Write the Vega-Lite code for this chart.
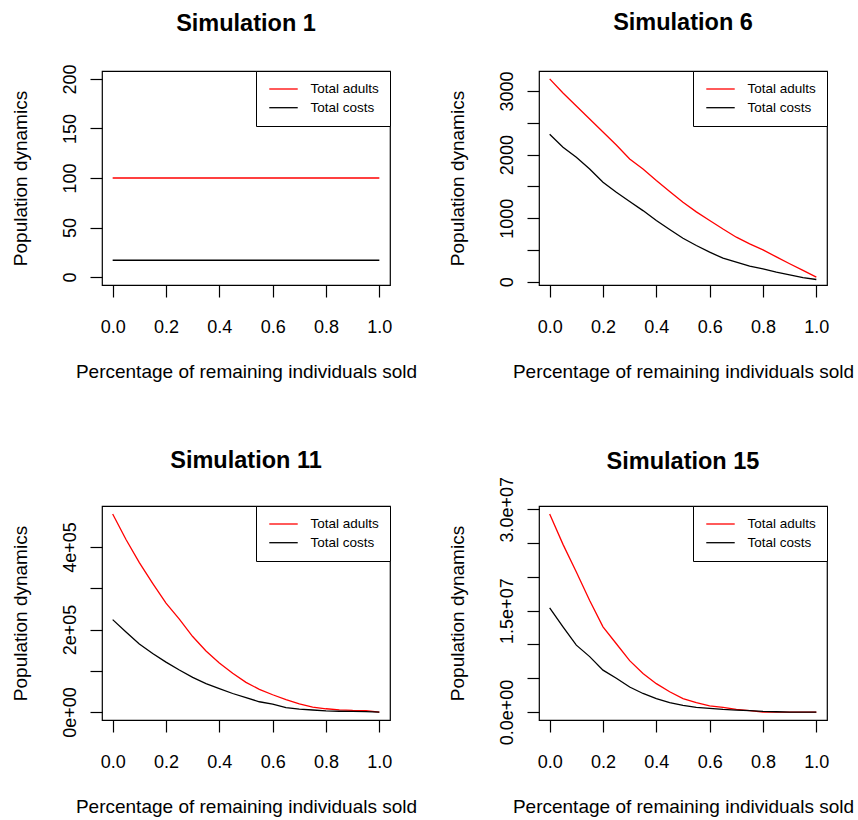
{
  "$schema": "https://vega.github.io/schema/vega-lite/v6.json",
  "background": "white",
  "padding": {"left": 10, "top": 10, "right": 0, "bottom": 0},
  "data": {"values": [
    {"s":1,"x":0.0,"Total adults":100,"Total costs":17},
    {"s":1,"x":0.1,"Total adults":100,"Total costs":17},
    {"s":1,"x":0.2,"Total adults":100,"Total costs":17},
    {"s":1,"x":0.3,"Total adults":100,"Total costs":17},
    {"s":1,"x":0.4,"Total adults":100,"Total costs":17},
    {"s":1,"x":0.5,"Total adults":100,"Total costs":17},
    {"s":1,"x":0.6,"Total adults":100,"Total costs":17},
    {"s":1,"x":0.7,"Total adults":100,"Total costs":17},
    {"s":1,"x":0.8,"Total adults":100,"Total costs":17},
    {"s":1,"x":0.9,"Total adults":100,"Total costs":17},
    {"s":1,"x":1.0,"Total adults":100,"Total costs":17},

    {"s":6,"x":0.00,"Total adults":3190,"Total costs":2319},
    {"s":6,"x":0.05,"Total adults":2969,"Total costs":2115},
    {"s":6,"x":0.10,"Total adults":2765,"Total costs":1958},
    {"s":6,"x":0.15,"Total adults":2560,"Total costs":1775},
    {"s":6,"x":0.20,"Total adults":2355,"Total costs":1565},
    {"s":6,"x":0.25,"Total adults":2152,"Total costs":1408},
    {"s":6,"x":0.30,"Total adults":1932,"Total costs":1262},
    {"s":6,"x":0.35,"Total adults":1775,"Total costs":1120},
    {"s":6,"x":0.40,"Total adults":1592,"Total costs":963},
    {"s":6,"x":0.45,"Total adults":1419,"Total costs":822},
    {"s":6,"x":0.50,"Total adults":1250,"Total costs":686},
    {"s":6,"x":0.55,"Total adults":1100,"Total costs":571},
    {"s":6,"x":0.60,"Total adults":965,"Total costs":466},
    {"s":6,"x":0.65,"Total adults":830,"Total costs":372},
    {"s":6,"x":0.70,"Total adults":702,"Total costs":309},
    {"s":6,"x":0.75,"Total adults":597,"Total costs":246},
    {"s":6,"x":0.80,"Total adults":503,"Total costs":204},
    {"s":6,"x":0.85,"Total adults":392,"Total costs":152},
    {"s":6,"x":0.90,"Total adults":285,"Total costs":110},
    {"s":6,"x":0.95,"Total adults":180,"Total costs":68},
    {"s":6,"x":1.00,"Total adults":75,"Total costs":37},

    {"s":11,"x":0.00,"Total adults":480000,"Total costs":224000},
    {"s":11,"x":0.05,"Total adults":418000,"Total costs":194000},
    {"s":11,"x":0.10,"Total adults":362000,"Total costs":165000},
    {"s":11,"x":0.15,"Total adults":312000,"Total costs":142000},
    {"s":11,"x":0.20,"Total adults":264000,"Total costs":121000},
    {"s":11,"x":0.25,"Total adults":225000,"Total costs":102000},
    {"s":11,"x":0.30,"Total adults":183000,"Total costs":84000},
    {"s":11,"x":0.35,"Total adults":148000,"Total costs":69000},
    {"s":11,"x":0.40,"Total adults":119000,"Total costs":57000},
    {"s":11,"x":0.45,"Total adults":94000,"Total costs":45000},
    {"s":11,"x":0.50,"Total adults":72000,"Total costs":35000},
    {"s":11,"x":0.55,"Total adults":55000,"Total costs":25000},
    {"s":11,"x":0.60,"Total adults":42000,"Total costs":19000},
    {"s":11,"x":0.65,"Total adults":30000,"Total costs":11000},
    {"s":11,"x":0.70,"Total adults":20000,"Total costs":7000},
    {"s":11,"x":0.75,"Total adults":12000,"Total costs":5000},
    {"s":11,"x":0.80,"Total adults":8000,"Total costs":3000},
    {"s":11,"x":0.85,"Total adults":5500,"Total costs":2000},
    {"s":11,"x":0.90,"Total adults":4000,"Total costs":1600},
    {"s":11,"x":0.95,"Total adults":3500,"Total costs":1000},
    {"s":11,"x":1.00,"Total adults":0,"Total costs":0},

    {"s":15,"x":0.00,"Total adults":29300000,"Total costs":15400000},
    {"s":15,"x":0.05,"Total adults":24800000,"Total costs":12600000},
    {"s":15,"x":0.10,"Total adults":20700000,"Total costs":9900000},
    {"s":15,"x":0.15,"Total adults":16500000,"Total costs":8200000},
    {"s":15,"x":0.20,"Total adults":12600000,"Total costs":6200000},
    {"s":15,"x":0.25,"Total adults":10100000,"Total costs":5000000},
    {"s":15,"x":0.30,"Total adults":7600000,"Total costs":3700000},
    {"s":15,"x":0.35,"Total adults":5700000,"Total costs":2750000},
    {"s":15,"x":0.40,"Total adults":4200000,"Total costs":2000000},
    {"s":15,"x":0.45,"Total adults":3000000,"Total costs":1400000},
    {"s":15,"x":0.50,"Total adults":2000000,"Total costs":1000000},
    {"s":15,"x":0.55,"Total adults":1400000,"Total costs":690000},
    {"s":15,"x":0.60,"Total adults":930000,"Total costs":540000},
    {"s":15,"x":0.65,"Total adults":690000,"Total costs":390000},
    {"s":15,"x":0.70,"Total adults":390000,"Total costs":300000},
    {"s":15,"x":0.75,"Total adults":200000,"Total costs":200000},
    {"s":15,"x":0.80,"Total adults":0,"Total costs":100000},
    {"s":15,"x":0.85,"Total adults":0,"Total costs":50000},
    {"s":15,"x":0.90,"Total adults":0,"Total costs":0},
    {"s":15,"x":0.95,"Total adults":0,"Total costs":0},
    {"s":15,"x":1.00,"Total adults":0,"Total costs":0}
  ]},
  "transform": [{"fold": ["Total adults", "Total costs"], "as": ["series", "value"]}],
  "columns": 2,
  "spacing": {"row": 221, "column": 149},
  "bounds": "flush",
  "resolve": {"scale": {"color": "independent", "y": "independent", "x": "independent"}, "legend": {"color": "independent"}},
  "concat": [
    {
      "title": {"text": "Simulation 1", "offset": 28.6},
      "width": 288, "height": 214,
      "transform": [{"filter": "datum.s == 1"}],
      "mark": {"type": "line", "strokeWidth": 1.3},
      "encoding": {
        "x": {"field": "x", "type": "quantitative", "scale": {"domain": [-0.04, 1.04], "nice": false, "zero": false},
              "axis": {"values": [0, 0.2, 0.4, 0.6, 0.8, 1], "format": ".1f", "title": "Percentage of remaining individuals sold"}},
        "y": {"field": "value", "type": "quantitative", "scale": {"domain": [-8, 208], "nice": false, "zero": false},
              "axis": {"values": [0, 50, 100, 150, 200], "format": "d", "title": "Population dynamics"}},
        "color": {"field": "series", "type": "nominal", "scale": {"domain": ["Total adults", "Total costs"], "range": ["#ff0000", "#000000"]}, "legend": {"title": null}}
      }
    },
    {
      "title": {"text": "Simulation 6", "offset": 35.7},
      "width": 288, "height": 214,
      "transform": [{"filter": "datum.s == 6"}],
      "mark": {"type": "line", "strokeWidth": 1.3},
      "encoding": {
        "x": {"field": "x", "type": "quantitative", "scale": {"domain": [-0.04, 1.04], "nice": false, "zero": false},
              "axis": {"values": [0, 0.2, 0.4, 0.6, 0.8, 1], "format": ".1f", "title": "Percentage of remaining individuals sold"}},
        "y": {"field": "value", "type": "quantitative", "scale": {"domain": [-49.6, 3314.6], "nice": false, "zero": false},
              "axis": {"values": [0, 500, 1000, 1500, 2000, 2500, 3000], "format": "d", "labelExpr": "datum.value % 1000 == 0 ? datum.label : ''", "title": "Population dynamics"}},
        "color": {"field": "series", "type": "nominal", "scale": {"domain": ["Total adults", "Total costs"], "range": ["#ff0000", "#000000"]}, "legend": {"title": null}}
      }
    },
    {
      "title": {"text": "Simulation 11", "offset": 32.7},
      "width": 288, "height": 214,
      "transform": [{"filter": "datum.s == 11"}],
      "mark": {"type": "line", "strokeWidth": 1.3},
      "encoding": {
        "x": {"field": "x", "type": "quantitative", "scale": {"domain": [-0.04, 1.04], "nice": false, "zero": false},
              "axis": {"values": [0, 0.2, 0.4, 0.6, 0.8, 1], "format": ".1f", "title": "Percentage of remaining individuals sold"}},
        "y": {"field": "value", "type": "quantitative", "scale": {"domain": [-19200, 499200], "nice": false, "zero": false},
              "axis": {"values": [0, 100000, 200000, 300000, 400000], "labelExpr": "datum.value == 0 ? '0e+00' : datum.value == 200000 ? '2e+05' : datum.value == 400000 ? '4e+05' : ''", "title": "Population dynamics"}},
        "color": {"field": "series", "type": "nominal", "scale": {"domain": ["Total adults", "Total costs"], "range": ["#ff0000", "#000000"]}, "legend": {"title": null}}
      }
    },
    {
      "title": {"text": "Simulation 15", "offset": 3.1},
      "width": 288, "height": 214,
      "transform": [{"filter": "datum.s == 15"}],
      "mark": {"type": "line", "strokeWidth": 1.3},
      "encoding": {
        "x": {"field": "x", "type": "quantitative", "scale": {"domain": [-0.04, 1.04], "nice": false, "zero": false},
              "axis": {"values": [0, 0.2, 0.4, 0.6, 0.8, 1], "format": ".1f", "title": "Percentage of remaining individuals sold"}},
        "y": {"field": "value", "type": "quantitative", "scale": {"domain": [-1172000, 30472000], "nice": false, "zero": false},
              "axis": {"values": [0, 5000000, 10000000, 15000000, 20000000, 25000000, 30000000], "labelExpr": "datum.value == 0 ? '0.0e+00' : datum.value == 15000000 ? '1.5e+07' : datum.value == 30000000 ? '3.0e+07' : ''", "title": "Population dynamics"}},
        "color": {"field": "series", "type": "nominal", "scale": {"domain": ["Total adults", "Total costs"], "range": ["#ff0000", "#000000"]}, "legend": {"title": null}}
      }
    }
  ],
  "config": {
    "view": {"stroke": "black", "strokeWidth": 1.2},
    "axis": {
      "domain": false, "grid": false, "ticks": true,
      "tickColor": "black", "tickSize": 12, "tickWidth": 1.2,
      "labelColor": "black", "labelFont": "Liberation Sans", "labelFontSize": 18,
      "titleColor": "black", "titleFont": "Liberation Sans", "titleFontSize": 19, "titleFontWeight": "normal",
      "labelFlush": false, "labelOverlap": false
    },
    "axisX": {"labelPadding": 21, "titlePadding": 26},
    "axisY": {"labelAngle": 270, "labelAlign": "center", "labelBaseline": "alphabetic", "labelPadding": 15, "titlePadding": 31},
    "title": {"font": "Liberation Sans", "fontSize": 23.5, "fontWeight": "bold", "color": "black", "baseline": "alphabetic", "anchor": "middle", "frame": "group"},
    "legend": {
      "orient": "top-right", "offset": 0, "padding": 11,
      "strokeColor": "black", "fillColor": "white",
      "symbolType": "M-2.37,0H2.37", "symbolSize": 144, "symbolStrokeWidth": 1.3, "symbolOffset": 9.5,
      "labelOffset": 20, "labelFontSize": 13.5, "labelFont": "Liberation Sans", "labelColor": "black", "labelLimit": 300,
      "rowPadding": 4.7
    }
  }
}
